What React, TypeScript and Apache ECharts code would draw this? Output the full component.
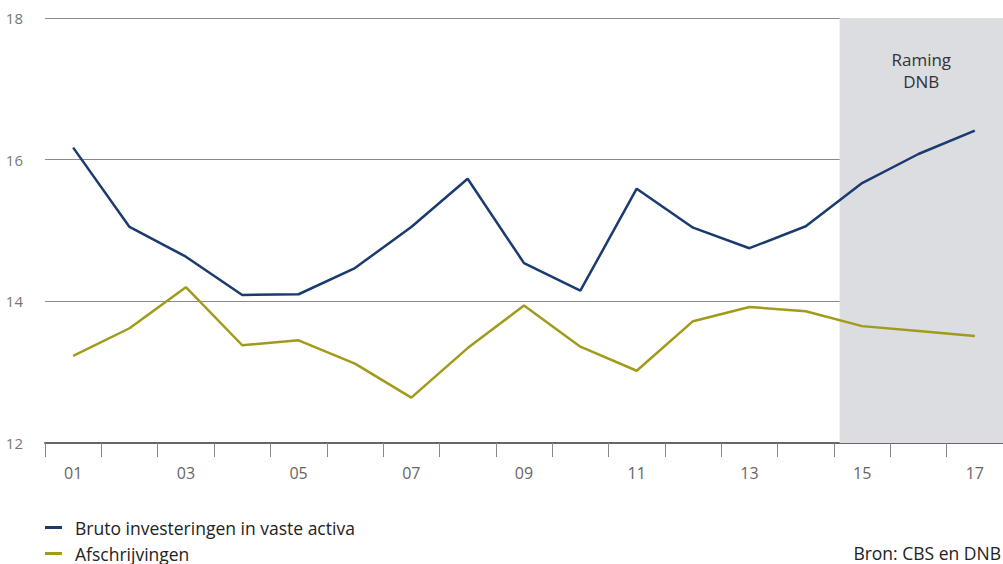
import React, { useEffect, useRef } from "react";
import * as echarts from "echarts";

const years = ["01", "02", "03", "04", "05", "06", "07", "08", "09", "10", "11", "12", "13", "14", "15", "16", "17"];
const bruto = [16.17, 15.05, 14.63, 14.09, 14.1, 14.47, 15.05, 15.73, 14.54, 14.15, 15.59, 15.04, 14.75, 15.06, 15.67, 16.08, 16.41];
const afschrijvingen = [13.23, 13.62, 14.2, 13.38, 13.45, 13.12, 12.64, 13.34, 13.94, 13.36, 13.02, 13.72, 13.92, 13.86, 13.65, 13.58, 13.51];
const ramingStart = 14.1;
const ramingEnd = 17;

const FONT = "'Open Sans', 'Noto Sans', sans-serif";

export default function App() {
  const ref = useRef<HTMLDivElement>(null);
  useEffect(() => {
    const chart = echarts.init(ref.current!, null, { renderer: "svg" });
    chart.setOption({
      animation: false,
      textStyle: { fontFamily: FONT },
      grid: { left: 45, right: 0, top: 18, bottom: 121, containLabel: false },
      legend: {
        orient: "vertical",
        left: 45,
        top: 517,
        height: 60,
        padding: 0,
        itemWidth: 17,
        itemHeight: 3,
        itemGap: 5,
        icon: "rect",
        textStyle: { fontSize: 17.5, color: "#222", fontFamily: FONT, padding: [0, 0, 0, 8], lineHeight: 21 },
        data: ["Bruto investeringen in vaste activa", "Afschrijvingen"],
      },
      graphic: [
        {
          type: "text",
          right: 2,
          top: 543,
          style: { text: "Bron: CBS en DNB", fontSize: 17.5, lineHeight: 20, fill: "#222", fontFamily: FONT },
        },
      ],
      xAxis: [
        {
          type: "category",
          data: years,
          boundaryGap: true,
          axisLine: { lineStyle: { color: "#666", width: 2 } },
          axisTick: { show: true, interval: 0, length: 14, lineStyle: { color: "#888", width: 1 } },
          axisLabel: { interval: 1, margin: 22, fontSize: 16, color: "#666", fontFamily: FONT },
        },
        {
          type: "value",
          min: 0,
          max: 17,
          show: false,
        },
      ],
      yAxis: {
        type: "value",
        min: 12,
        max: 18,
        interval: 2,
        axisLine: { show: false },
        axisTick: { show: false },
        axisLabel: { fontSize: 15, color: "#777", margin: 22, align: "right", fontFamily: FONT },
        splitLine: { lineStyle: { color: "#8a8a8a", width: 1 } },
      },
      series: [
        {
          type: "line",
          xAxisIndex: 1,
          data: [],
          silent: true,
          markArea: {
            silent: true,
            itemStyle: { color: "#dcdde0" },
            label: {
              show: true,
              position: "insideTop",
              distance: 30,
              formatter: "Raming\nDNB",
              fontSize: 17,
              lineHeight: 22,
              color: "#333",
              fontFamily: FONT,
            },
            data: [[{ xAxis: ramingStart, yAxis: 18 }, { xAxis: ramingEnd, yAxis: 12 }]],
          },
          z: 0,
        },
        {
          name: "Bruto investeringen in vaste activa",
          type: "line",
          data: bruto,
          symbol: "none",
          lineStyle: { color: "#1a3a70", width: 2.5 },
          itemStyle: { color: "#1a3a70" },
          z: 3,
        },
        {
          name: "Afschrijvingen",
          type: "line",
          data: afschrijvingen,
          symbol: "none",
          lineStyle: { color: "#a09b1a", width: 2.5 },
          itemStyle: { color: "#a09b1a" },
          z: 3,
        },
      ],
    });
    return () => chart.dispose();
  }, []);
  return <div ref={ref} style={{ width: 1003, height: 564, position: "absolute", left: 0, top: 0 }} />;
}
